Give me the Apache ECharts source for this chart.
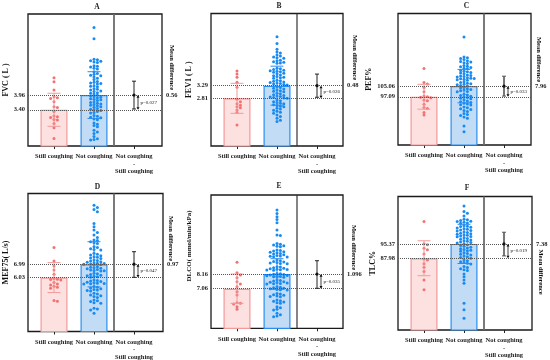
<!DOCTYPE html>
<html><head><meta charset="utf-8">
<script src="https://cdn.jsdelivr.net/npm/echarts@6/dist/echarts.min.js"></script>
<style>html,body{margin:0;padding:0;background:#fff}#c{width:550px;height:360px}</style>
</head><body><div id="c"></div>
<script>
// ---------- data ----------
const panelTitles = ['A','B','C','D','E','F'];
const yNames = ['FVC ( L )','FEV1 ( L )','PEF%','MEF75( L/s)','DLCO( mmol/min/kPa)','TLC%'];
const categories = ['Still coughing','Not coughing','Not coughing\n-\nStill coughing'];
const diffAxisName = 'Mean difference';
const meanStill = [3.40, 2.81, 97.09, 6.03, 7.06, 87.98];
const meanNot = [3.96, 3.29, 105.06, 6.99, 8.16, 95.37];
const meanDiff = [0.56, 0.48, 7.96, 0.97, 1.096, 7.38];
const diffLabels = ['0.56','0.48','7.96','0.97','1.096','7.38'];
const sdStill = [0.63, 0.57, 9.3, 1.08, 1.10, 9.0];
const sdNot = [0.89, 0.74, 12.5, 1.63, 1.15, 10.1];
const ciLow = [0.03, 0.04, 0.5, 0.02, 0.03, 1.2];
const ciHigh = [1.09, 0.92, 15.4, 1.87, 2.10, 13.4];
const pValues = ['p=0.027','p=0.026','p=0.033','p=0.047','p=0.035','p=0.019'];
const yMin = [2.02, 1.0, 61, 2.14, 4.09, 51.0];
const yMax = [7.05, 6.03, 159.4, 12.1, 14.09, 119.8];

const stillA = [4.62,4.47,4.15,3.90,3.86,3.83,3.71,3.52,3.49,3.33,3.16,3.13,3.11,3.03,3.01,2.88,2.72,2.31];
const notA = [6.54,6.11,5.33,5.31,5.27,5.25,5.22,5.20,5.08,5.06,5.03,4.98,4.95,4.85,4.78,4.75,4.72,4.70,4.65,4.60,4.55,4.48,4.45,4.42,4.40,4.38,4.32,4.30,4.28,4.20,4.18,4.15,4.12,4.10,4.05,4.03,4.00,3.95,3.93,3.90,3.88,3.85,3.82,3.80,3.78,3.75,3.70,3.68,3.65,3.62,3.60,3.57,3.55,3.52,3.50,3.45,3.42,3.40,3.37,3.33,3.30,3.28,3.18,3.15,3.12,3.10,3.05,3.02,2.90,2.85,2.80,2.75,2.62,2.55,2.50,2.38,2.30,2.27,2.25];
const stillB = [3.85,3.73,3.61,3.42,3.23,2.55,2.45,2.77,2.68,2.60,2.49,2.37,2.27,1.80];
const notB = [5.15,4.89,4.67,4.57,4.53,4.45,4.42,4.38,4.35,4.33,4.26,4.24,4.20,4.18,4.15,4.14,3.95,3.93,3.90,3.88,3.86,3.84,3.82,3.80,3.76,3.74,3.70,3.67,3.64,3.61,3.59,3.57,3.50,3.48,3.46,3.43,3.41,3.39,3.37,3.35,3.33,3.32,3.25,3.22,3.19,3.16,3.13,3.10,3.08,3.06,3.00,2.98,2.95,2.92,2.90,2.88,2.86,2.84,2.82,2.81,2.75,2.72,2.68,2.65,2.62,2.60,2.57,2.54,2.51,2.49,2.43,2.40,2.36,2.32,2.28,2.24,2.18,2.12,2.05,1.98,1.93];
const stillC = [118.3,107.8,106.6,104.1,100.8,97.6,97.1,96.8,96.3,94.6,94.1,91.4,89.1,88.4,85.4,83.4];
const notC = [141.9,126.9,126.2,125.7,125.0,124.0,123.5,123.2,122.6,122.0,120.5,120.0,119.5,119.0,118.5,118.0,116.8,116.2,115.8,115.3,114.8,114.3,113.3,113.0,112.6,112.2,111.8,111.4,111.0,110.8,110.5,110.2,109.8,109.5,108.3,107.8,107.3,106.8,106.4,106.0,105.6,105.2,104.1,103.6,103.1,102.6,102.1,101.6,101.1,100.8,99.0,98.5,98.0,97.5,97.0,96.5,96.0,95.6,94.6,94.0,93.4,92.8,92.2,91.6,91.2,90.9,89.4,88.8,88.2,87.6,86.8,86.0,84.6,83.8,83.0,82.0,81.0,75.2,70.9];
const stillD = [8.21,7.23,6.87,6.58,6.27,5.96,5.91,5.89,5.86,5.67,5.57,5.33,5.26,5.50,5.40,4.37,4.33];
const notD = [11.26,11.09,10.95,10.78,9.94,9.70,9.46,9.29,9.10,8.93,8.74,8.70,8.62,8.55,8.50,8.26,8.20,8.12,8.05,8.02,7.78,7.72,7.66,7.60,7.54,7.50,7.45,7.40,7.30,7.26,7.22,7.18,7.14,7.10,7.06,7.04,7.02,7.00,6.98,6.96,6.82,6.78,6.74,6.70,6.66,6.62,6.58,6.55,6.52,6.50,6.34,6.30,6.25,6.20,6.16,6.12,6.10,6.06,5.86,5.82,5.78,5.74,5.70,5.66,5.62,5.60,5.58,5.56,5.38,5.34,5.28,5.22,5.18,5.14,5.10,5.06,4.90,4.84,4.78,4.72,4.66,4.60,4.42,4.36,4.30,4.22,4.18,3.82,3.76,3.70,3.46];
const stillE = [9.04,8.26,8.09,7.89,7.59,7.41,7.21,6.84,6.59,6.01,5.96,5.91,5.71,5.51];
const notE = [12.96,12.71,12.46,12.26,12.01,11.46,11.09,11.05,10.46,10.40,10.34,10.28,10.24,10.21,9.96,9.92,9.88,9.84,9.80,9.76,9.71,9.66,9.61,9.56,9.52,9.49,9.46,9.43,9.21,9.16,9.11,9.06,9.02,8.98,8.96,8.94,8.71,8.68,8.64,8.60,8.56,8.52,8.50,8.48,8.46,8.44,8.21,8.18,8.15,8.12,8.09,8.06,8.03,8.00,7.98,7.96,7.94,7.92,7.71,7.67,7.63,7.59,7.55,7.52,7.49,7.46,7.44,7.42,7.21,7.17,7.13,7.09,7.05,7.01,6.98,6.96,6.71,6.66,6.61,6.56,6.52,6.48,6.46,6.21,6.16,6.11,6.06,6.01,5.96,5.71,5.64,5.52,5.46,5.21,5.10,5.02,4.96];
const stillF = [106.9,95.4,94.9,93.1,92.3,90.2,87.6,87.1,85.1,83.3,81.1,76.8,71.7];
const notF = [114.96,112.04,111.2,109.8,108.1,107.8,107.4,107.0,106.9,106.5,106.2,106.0,104.8,104.5,104.3,104.0,103.6,103.2,102.9,102.6,102.3,102.0,101.5,101.2,100.9,100.6,100.3,100.0,99.8,99.5,99.2,99.0,98.5,98.1,97.8,97.4,97.0,96.7,96.4,96.1,95.8,95.5,94.9,94.5,94.1,93.7,93.3,92.9,92.5,92.1,91.9,91.6,90.8,90.4,90.0,89.6,89.2,88.8,88.4,88.0,87.1,86.7,86.2,85.8,85.4,85.0,83.7,83.2,82.6,82.0,81.6,79.9,78.5,76.8,75.1,64.8,61.4,57.1];

const groups = [[stillA,notA],[stillB,notB],[stillC,notC],[stillD,notD],[stillE,notE],[stillF,notF]];

// ---------- layout / style ----------
const boxLeft = [28, 211, 398, 28, 211, 398];
const boxTop = [14, 13.5, 13.5, 193.5, 195, 196.5];
const boxWidth = [134, 132, 133, 135, 132, 134];
const boxHeight = [132, 132.5, 131.5, 138, 133.3, 133.5];
const titleTop = [3, 2, 2, 183, 182, 184];
const leftGap = [16, 17, 24, 17, 18.5, 17];
// centre positions of the rotated "Mean difference" titles
const mdX = [172, 354.5, 539, 171, 354, 540.5];
const mdY = [67.5, 57.5, 59.5, 238.5, 247.5, 272];
const divColor = ['#6b6b6b','#333','#6b6b6b','#6b6b6b','#333','#6b6b6b'];
const divWidth = [1.8, 1.2, 1.8, 1.8, 1.2, 1.8];

const FONT = '"Liberation Serif", "Times New Roman", serif';
const PINK_FILL = '#fde1e1', PINK_LINE = '#f29a9a', PINK_DOT = '#f27272';
const BLUE_FILL = '#c2dcf6', BLUE_LINE = '#2a8ef0', BLUE_DOT = '#188bf2';

function swarm(values, ppu) {
  const idx = values.map((v, i) => i).sort((a, b) => values[b] - values[a]);
  const placed = [];
  const offs = new Array(values.length).fill(0);
  const step = 3.4, dy = 2.5, maxOff = 12.5;
  const cands = [0];
  for (let j = 1; j * step <= maxOff; j++) { cands.push(j * step, -j * step); }
  idx.forEach(i => {
    const py = values[i] * ppu;
    let best = 0, bestN = Infinity;
    for (const ox of cands) {
      const n = placed.filter(p => Math.abs(p.py - py) < dy && Math.abs(p.ox - ox) < step - 0.01).length;
      if (n < bestN) { bestN = n; best = ox; if (n === 0) break; }
    }
    offs[i] = best; placed.push({ py, ox: best });
  });
  return offs;
}

const grid = [], xAxis = [], yAxis = [], series = [], title = [], graphic = [];
for (let k = 0; k < 6; k++) {
  const bl = boxLeft[k], bt = boxTop[k], bw = boxWidth[k], bh = boxHeight[k];
  const bg = 2 * k, dg = 2 * k + 1;
  grid.push({ left: bl, top: bt, width: bw, height: bh, show: true, borderColor: '#1a1a1a', borderWidth: 1.3, backgroundColor: 'transparent', containLabel: false, outerBoundsMode: 'none' });
  grid.push({ left: bl + 6, top: bt, width: 120, height: bh, containLabel: false, outerBoundsMode: 'none' });
  xAxis.push({ gridIndex: bg, type: 'value', min: 0, max: 1, show: false });
  xAxis.push({ gridIndex: dg, type: 'category', data: categories,
    axisLine: { show: false },
    axisTick: { show: true, alignWithLabel: true, length: 3, lineStyle: { color: '#222', width: 1 } },
    axisLabel: { interval: 0, margin: 7, fontFamily: FONT, fontWeight: 'bold', fontSize: 6.5, color: '#222', lineHeight: 7.5 },
    splitLine: { show: false } });
  const isE = k === 4;
  yAxis.push({ gridIndex: bg, type: 'value', position: 'left', min: yMin[k], max: yMax[k],
    axisLine: { show: false }, axisTick: { show: false }, splitLine: { show: false },
    axisLabel: { customValues: [meanStill[k], meanNot[k]], formatter: v => Number(v).toFixed(2), margin: 3,
      fontFamily: FONT, fontWeight: 'bold', fontSize: 6.5, color: '#222' },
    name: isE ? '' : yNames[k], nameLocation: 'middle', nameGap: leftGap[k], nameRotate: 90,
    nameTextStyle: { fontFamily: FONT, fontWeight: 'bold', fontSize: 8, color: '#111' } });
  yAxis.push({ gridIndex: bg, type: 'value', position: 'right', min: yMin[k] - meanStill[k], max: yMax[k] - meanStill[k],
    axisLine: { show: false }, axisTick: { show: false }, splitLine: { show: false },
    axisLabel: { customValues: [meanDiff[k]], formatter: () => diffLabels[k], margin: 4,
      fontFamily: FONT, fontWeight: 'bold', fontSize: 6.5, color: '#222' } });
  yAxis.push({ gridIndex: dg, type: 'value', min: yMin[k], max: yMax[k], show: false });

  graphic.push({ type: 'text', x: mdX[k], y: mdY[k], rotation: -Math.PI / 2, silent: true,
    style: { text: diffAxisName, fontFamily: FONT, fontWeight: 'bold', fontSize: 6.5, fill: '#111', align: 'center', verticalAlign: 'middle' } });
  if (isE) {
    graphic.push({ type: 'text', x: 189.5, y: 246, rotation: Math.PI / 2, silent: true,
      style: { text: yNames[k], fontFamily: FONT, fontWeight: 'bold', fontSize: 7, fill: '#111', align: 'center', verticalAlign: 'middle' } });
  }

  title.push({ text: panelTitles[k], left: bl + bw / 2 + 2, top: titleTop[k], textAlign: 'center', padding: 0,
    textStyle: { fontFamily: FONT, fontWeight: 'bold', fontSize: 7.5, color: '#222' } });

  // dotted reference lines across the whole box
  series.push({ type: 'line', xAxisIndex: bg, yAxisIndex: 3 * k, data: [], silent: true,
    markLine: { silent: true, symbol: 'none', label: { show: false }, animation: false,
      lineStyle: { type: 'dotted', color: '#555', width: 1 },
      data: [{ yAxis: meanStill[k] }, { yAxis: meanNot[k] }] } });

  // bars
  series.push({ type: 'bar', xAxisIndex: dg, yAxisIndex: 3 * k + 2, barWidth: 27, z: 2,
    data: [
      { value: meanStill[k], itemStyle: { color: PINK_FILL, borderColor: PINK_LINE, borderWidth: 1.2 } },
      { value: meanNot[k], itemStyle: { color: BLUE_FILL, borderColor: BLUE_LINE, borderWidth: 1.2 } },
      '-'] });

  // points
  const ppu = bh / (yMax[k] - yMin[k]);
  groups[k].forEach((vals, g) => {
    const offs = swarm(vals, ppu);
    series.push({ type: 'scatter', xAxisIndex: dg, yAxisIndex: 3 * k + 2, symbol: 'circle', symbolSize: 3, z: 3,
      itemStyle: { color: g ? BLUE_DOT : PINK_DOT, opacity: 1 },
      data: vals.map((v, i) => ({ value: [categories[g], v], symbolOffset: [offs[i], 0] })) });
  });

  // SD error bars
  series.push({ type: 'custom', xAxisIndex: dg, yAxisIndex: 3 * k + 2, z: 4, encode: { x: 0, y: 1 },
    data: [[categories[0], meanStill[k], sdStill[k]], [categories[1], meanNot[k], sdNot[k]]],
    renderItem: (params, api) => {
      const x = api.value(0), m = api.value(1), s = api.value(2);
      const t = api.coord([x, m + s]), b = api.coord([x, m - s]);
      const c = x === 0 ? PINK_LINE : BLUE_LINE;
      const hw = 6.5, st = { stroke: c, lineWidth: 1 };
      return { type: 'group', children: [
        { type: 'line', shape: { x1: t[0], y1: t[1], x2: b[0], y2: b[1] }, style: st },
        { type: 'line', shape: { x1: t[0] - hw, y1: t[1], x2: t[0] + hw, y2: t[1] }, style: st },
        { type: 'line', shape: { x1: b[0] - hw, y1: b[1], x2: b[0] + hw, y2: b[1] }, style: st }
      ] };
    } });

  // mean difference glyph + divider
  series.push({ type: 'custom', xAxisIndex: dg, yAxisIndex: 3 * k + 2, z: 5, encode: { x: 0, y: 1 },
    data: [[categories[2], meanStill[k], meanDiff[k], ciLow[k], ciHigh[k]]],
    renderItem: (params, api) => {
      const base = api.value(1), d = api.value(2), lo = api.value(3), hi = api.value(4);
      const pHi = api.coord([2, base + hi]), pLo = api.coord([2, base + lo]);
      const pM = api.coord([2, base + d]), pB = api.coord([2, base]);
      const band = api.size([1, 0])[0];
      const c1 = api.coord([1, base]);
      const xDiv = c1[0] + band / 2;
      const cs = params.coordSys;
      const ciC = (k === 2 || k === 5) ? '#555' : '#222';
      const ciW = (k === 2 || k === 5) ? 1.6 : 1;
      const ax = pM[0] + 4;
      const y1 = pM[1], y2 = pB[1];
      const ast = { stroke: '#111', lineWidth: 0.8 };
      return { type: 'group', children: [
        { type: 'line', shape: { x1: xDiv, y1: cs.y, x2: xDiv, y2: cs.y + cs.height }, style: { stroke: divColor[k], lineWidth: divWidth[k] } },
        { type: 'line', shape: { x1: pHi[0], y1: pHi[1], x2: pLo[0], y2: pLo[1] }, style: { stroke: ciC, lineWidth: ciW } },
        { type: 'line', shape: { x1: pHi[0] - 2, y1: pHi[1], x2: pHi[0] + 2, y2: pHi[1] }, style: { stroke: ciC, lineWidth: 1 } },
        { type: 'line', shape: { x1: pLo[0] - 2, y1: pLo[1], x2: pLo[0] + 2, y2: pLo[1] }, style: { stroke: ciC, lineWidth: 1 } },
        { type: 'circle', shape: { cx: pM[0], cy: pM[1], r: 1.6 }, style: { fill: '#111' } },
        { type: 'line', shape: { x1: ax, y1: y1 + 1, x2: ax, y2: y2 - 1 }, style: ast },
        { type: 'polygon', shape: { points: [[ax, y1], [ax - 1.5, y1 + 2.6], [ax + 1.5, y1 + 2.6]] }, style: { fill: '#111' } },
        { type: 'polygon', shape: { points: [[ax, y2], [ax - 1.5, y2 - 2.6], [ax + 1.5, y2 - 2.6]] }, style: { fill: '#111' } },
        { type: 'text', style: { x: ax + 2.5, y: (y1 + y2) / 2, text: pValues[k], fill: '#222',
            fontFamily: FONT, fontSize: 5, align: 'left', verticalAlign: 'middle' } }
      ] };
    } });
}

const chart = echarts.init(document.getElementById('c'), null, { renderer: 'canvas' });
chart.setOption({ animation: false, backgroundColor: '#fff', title, grid, xAxis, yAxis, series, graphic });
</script>
</body></html>
